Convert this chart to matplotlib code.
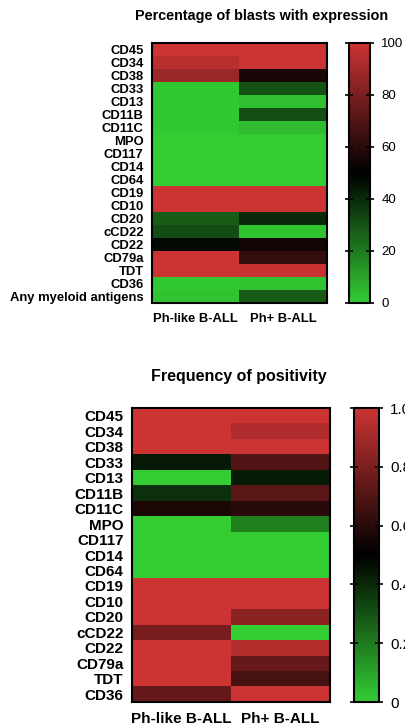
import numpy as np
import matplotlib
matplotlib.use("Agg")
import matplotlib.pyplot as plt
from matplotlib.colors import LinearSegmentedColormap

plt.rcParams['font.family'] = ['Liberation Sans', 'DejaVu Sans']

groups = ['Ph-like B-ALL', 'Ph+ B-ALL']

# Percentage of blasts with expression (0-100)
markers_top = ['CD45', 'CD34', 'CD38', 'CD33', 'CD13', 'CD11B', 'CD11C', 'MPO',
               'CD117', 'CD14', 'CD64', 'CD19', 'CD10', 'CD20', 'cCD22', 'CD22',
               'CD79a', 'TDT', 'CD36', 'Any myeloid antigens']
phlike_pct = [100, 95, 88, 1, 1, 1, 1, 0, 0, 0, 0, 100, 100, 27, 31, 48, 100, 100, 1, 2]
phplus_pct = [100, 100, 56, 30, 3, 31, 4, 0, 0, 0, 0, 100, 100, 40, 2, 55, 63, 99, 2, 28]

# Frequency of positivity (0-1)
markers_bot = ['CD45', 'CD34', 'CD38', 'CD33', 'CD13', 'CD11B', 'CD11C', 'MPO',
               'CD117', 'CD14', 'CD64', 'CD19', 'CD10', 'CD20', 'cCD22', 'CD22',
               'CD79a', 'TDT', 'CD36']
phlike_freq = [1, 1, 1, 0.44, 0, 0.38, 0.57, 0, 0, 0, 0, 1, 1, 1, 0.79, 1, 1, 1, 0.75]
phplus_freq = [1, 0.93, 1, 0.70, 0.43, 0.72, 0.60, 0.19, 0, 0, 0, 1, 1, 0.84, 0, 0.94, 0.75, 0.67, 1]

cmap = LinearSegmentedColormap.from_list('gbr', ['#33cc33', '#000000', '#cc3333'])

fig = plt.figure(figsize=(4.05, 7.23), dpi=100)


def draw(ax, cax, labels, a, b, vmax, ticks, ticklabels, fs, cfs, xpad):
    data = np.array([a, b]).T
    im = ax.imshow(data, cmap=cmap, vmin=0, vmax=vmax, aspect='auto',
                   interpolation='nearest')
    ax.set_yticks(range(len(labels)))
    ax.set_yticklabels(labels, fontsize=fs, fontweight='bold')
    ax.set_xticks([0, 1])
    ax.set_xticklabels(groups, fontsize=fs, fontweight='bold')
    ax.tick_params(length=0, pad=6)
    ax.tick_params(axis='x', pad=xpad)
    for s in ax.spines.values():
        s.set_linewidth(1.5)
    cb = fig.colorbar(im, cax=cax)
    cb.set_ticks(ticks)
    cb.set_ticklabels(ticklabels)
    cb.outline.set_linewidth(1.5)
    cax.tick_params(labelsize=cfs, direction='inout', length=6, width=1.2,
                    left=True, right=True, pad=5)


ax1 = fig.add_axes([0.375, 0.581, 0.432, 0.3596])
cax1 = fig.add_axes([0.862, 0.581, 0.052, 0.3596])
draw(ax1, cax1, markers_top, phlike_pct, phplus_pct, 100,
     [0, 20, 40, 60, 80, 100], ['0', '20', '40', '60', '80', '100'], 9.4, 9.5, 7)
fig.text(0.645, 0.978, 'Percentage of blasts with expression', ha='center',
         va='center', fontsize=10.4, fontweight='bold')

ax2 = fig.add_axes([0.326, 0.029, 0.489, 0.4066])
cax2 = fig.add_axes([0.874, 0.029, 0.062, 0.4066])
draw(ax2, cax2, markers_bot, phlike_freq, phplus_freq, 1,
     [0, 0.2, 0.4, 0.6, 0.8, 1.0], ['0', '0.2', '0.4', '0.6', '0.8', '1.0'], 11, 11, 7)
fig.text(0.59, 0.479, 'Frequency of positivity', ha='center', va='center',
         fontsize=11.5, fontweight='bold')

fig.savefig('out.png', dpi=100)
